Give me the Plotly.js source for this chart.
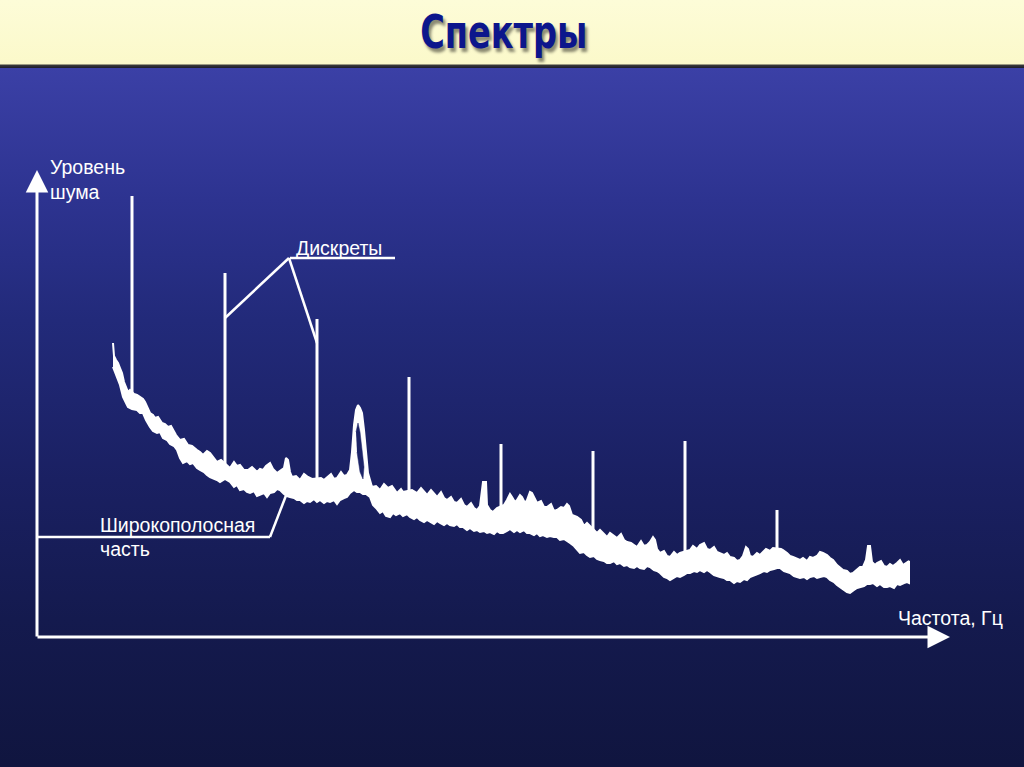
<!DOCTYPE html>
<html>
<head>
<meta charset="utf-8">
<script src="https://cdn.plot.ly/plotly-3.0.1.min.js"></script>
<style>
  html, body { margin: 0; padding: 0; }
  body {
    width: 1024px; height: 767px; overflow: hidden;
    background: linear-gradient(to bottom,
      #fdfcd8 0px, #fbf9ca 64px, #3a3a3a 65px, #1c1c2c 68px,
      #3b40a6 68px, #2d3390 200px, #222a7a 320px, #1a2062 480px, #141a4e 620px, #10153f 767px);
  }
  #chart { width: 1024px; height: 767px; }
  .gtitle { transform-box: fill-box; transform-origin: center; transform: scaleX(0.73); }
</style>
</head>
<body>
<div id="chart"></div>
<script>
// Broadband part: upper and lower envelope of the noisy spectrum (arbitrary units)
const upperFreq = [76,77,79,81,83,85,87,89,91,93,97,100,103,106,108,111,113,116,118,121,125,128,131,134,136,139,143,147,151,155,160,163,166,170,173,177,180,184,187,191,193,197,200,203,207,211,215,220,223,226,229,233,236,240,244,247,249,251,253,255,259,263,267,271,275,284,287,290,294,297,300,304,307,310,313,315,317,319,321,323,325,327,328,330,331,333,335,339,343,347,351,355,360,364,366,375,380,384,387,390,394,397,400,404,407,410,414,417,420,424,427,430,434,437,440,443,446,449,450,453,456,460,467,470,473,475,478,480,483,485,488,490,493,495,498,500,504,507,510,514,517,520,524,527,530,532,535,538,540,544,547,550,560,563,567,570,573,577,580,584,587,590,594,597,600,604,607,610,613,616,618,620,623,627,630,633,637,640,643,653,656,660,663,667,670,673,677,680,683,687,690,693,697,700,703,706,709,711,713,716,720,723,726,729,733,736,744,746,750,753,756,760,763,766,770,773,776,780,783,786,790,793,796,800,803,806,810,813,816,820,823,826,829,831,833,835,838,840,844,847,850,853,856,860,863,866,870,872];
const upperLevel = [294,281,277,274,269,264,255,249,245,247,243,242,240,238,235,229,224,222,219,220,214,213,210,211,207,202,197,198,192,191,187,185,182,186,184,179,175,177,174,171,169,175,171,172,167,167,170,165,168,167,171,174,168,164,167,169,179,177,165,160,161,157,163,160,158,159,157,160,163,158,159,165,161,162,167,185,212,227,232,229,224,207,194,175,164,157,150,151,147,153,149,151,144,148,145,147,144,149,146,142,147,143,140,145,139,137,140,135,134,138,132,130,134,129,127,131,155,155,132,127,125,129,132,137,143,140,135,137,142,140,134,137,145,144,137,134,136,130,130,133,126,127,130,129,133,131,122,121,120,117,111,114,104,107,103,100,104,101,99,103,97,95,94,92,90,96,91,92,95,100,97,88,84,86,81,80,85,82,84,87,91,88,92,94,88,87,90,85,84,82,84,80,79,76,77,81,90,88,81,80,84,82,85,88,86,89,88,87,84,81,80,78,77,79,76,80,79,81,85,84,82,79,77,72,69,67,66,63,64,67,70,70,77,91,91,75,72,74,76,71,70,73,71,74,77,72,75,76];
const lowerFreq = [76,78,81,83,86,89,91,95,100,103,106,109,113,116,120,123,126,130,133,137,140,143,146,150,153,156,160,163,167,170,173,177,180,183,188,193,197,200,203,207,210,213,217,220,223,227,230,233,237,240,243,247,250,253,257,260,263,267,270,273,277,280,283,287,290,293,297,300,303,307,310,313,317,320,323,326,329,333,336,339,343,346,349,353,356,359,363,366,370,373,377,380,383,387,390,393,397,400,403,407,410,413,417,420,423,426,430,433,437,440,443,447,450,453,457,460,463,466,470,473,477,480,483,487,490,493,497,500,503,506,510,513,517,520,523,527,530,533,537,540,543,547,550,553,557,560,563,567,570,573,577,580,583,587,590,593,597,600,603,607,610,613,617,620,623,627,630,633,637,640,643,647,650,653,657,660,663,667,670,673,677,680,683,687,690,693,697,700,703,707,710,713,717,720,723,727,730,733,737,740,743,747,750,753,757,760,763,767,770,773,777,780,783,787,790,793,797,800,803,807,810,813,817,820,823,827,830,833,836,840,843,847,850,853,857,860,863,867,870,872];
const lowerLevel = [270,265,257,252,240,234,230,228,227,224,224,217,210,206,204,205,199,197,193,191,187,179,174,176,173,174,169,167,165,162,160,158,157,155,158,155,150,152,147,148,145,144,146,141,142,144,140,144,145,148,147,143,141,140,139,137,137,134,136,135,138,135,137,134,136,135,137,133,137,139,140,144,147,145,145,143,143,140,132,129,124,126,121,120,124,122,124,121,123,120,118,120,117,115,117,115,113,116,114,112,114,112,111,113,110,110,107,109,106,107,105,106,104,105,103,106,104,104,106,108,105,107,105,107,104,104,102,104,101,102,100,101,100,100,97,98,96,94,91,88,84,85,82,80,81,78,77,76,74,74,76,73,74,71,72,70,69,71,69,68,71,70,67,66,64,60,59,57,59,61,60,62,64,64,66,65,67,65,67,65,62,61,60,59,57,57,54,56,55,58,57,60,62,63,64,66,65,67,68,69,69,66,65,64,61,60,59,60,58,60,61,59,60,61,60,57,55,52,50,47,45,44,47,49,50,51,53,53,54,51,53,50,50,51,49,53,52,54,55,54];
// Gap inside the broad hump near frequency 322
const humpGapFreq = [319, 321, 323, 327, 326, 323, 320];
const humpGapLevel = [205, 214, 205, 170, 158, 165, 185];
// Discrete components (tonal peaks)
const discreteFreq = [95, 188, 280, 372, 464, 556, 648, 740];
const discreteLevel = [441, 364, 318, 260, 193, 186, 196, 127];
const discreteBase = [232, 160, 138, 124, 108, 84, 66, 72];

const bandX = upperFreq.concat(lowerFreq.slice().reverse());
const bandY = upperLevel.concat(lowerLevel.slice().reverse());

const dX = [], dY = [];
discreteFreq.forEach((f, i) => { dX.push(f, f, null); dY.push(discreteBase[i], discreteLevel[i], null); });

const traces = [
  { type: 'scatter', mode: 'lines', x: bandX, y: bandY, fill: 'toself', fillcolor: '#ffffff',
    line: { color: '#ffffff', width: 2 }, hoverinfo: 'skip', showlegend: false },
  { type: 'scatter', mode: 'lines', x: humpGapFreq, y: humpGapLevel, fill: 'toself', fillcolor: '#1d2468',
    line: { color: '#1d2468', width: 0.5 }, hoverinfo: 'skip', showlegend: false },
  { type: 'scatter', mode: 'lines', x: dX, y: dY, line: { color: '#ffffff', width: 3 },
    hoverinfo: 'skip', showlegend: false, connectgaps: false }
];

const textFont = { family: 'Liberation Sans, Arial, sans-serif', size: 19.5, color: '#ffffff' };
const ann = (x, y, text, xa, ya) => ({ x, y, xref: 'x', yref: 'y', text, showarrow: false,
  xanchor: xa || 'left', yanchor: ya || 'middle', align: 'left', font: textFont });
const arrow = (x, y, ax, ay) => ({ x, y, ax, ay, xref: 'x', yref: 'y', axref: 'x', ayref: 'y',
  text: '', showarrow: true, arrowhead: 2, arrowsize: 1.5, arrowwidth: 3, arrowcolor: '#ffffff', standoff: 0 });

const layout = {
  width: 1024, height: 767,
  margin: { l: 37, r: 67, t: 170, b: 130 },
  paper_bgcolor: 'rgba(0,0,0,0)', plot_bgcolor: 'rgba(0,0,0,0)',
  title: { text: 'Спектры', x: 0.492, xref: 'container', y: 0.958, yref: 'container',
    xanchor: 'center', yanchor: 'middle',
    font: { family: 'DejaVu Sans, sans-serif', size: 46,
      weight: 700, color: '#0c168c', shadow: '3px 3px 3px rgba(0,0,0,0.45)' } },
  xaxis: { range: [0, 920], visible: false, fixedrange: true },
  yaxis: { range: [0, 467], visible: false, fixedrange: true },
  shapes: [
    { type: 'line', xref: 'x', yref: 'y', x0: 253, y0: 379, x1: 358, y1: 379, line: { color: '#ffffff', width: 2.5 } },
    { type: 'line', xref: 'x', yref: 'y', x0: 252, y0: 379, x1: 188, y1: 319, line: { color: '#ffffff', width: 2.5 } },
    { type: 'line', xref: 'x', yref: 'y', x0: 252, y0: 379, x1: 280, y1: 294, line: { color: '#ffffff', width: 2.5 } },
    { type: 'line', xref: 'x', yref: 'y', x0: 1, y0: 100, x1: 233, y1: 100, line: { color: '#ffffff', width: 2.5 } },
    { type: 'line', xref: 'x', yref: 'y', x0: 233, y0: 100, x1: 255, y1: 157, line: { color: '#ffffff', width: 2.5 } }
  ],
  annotations: [
    arrow(0, 467, 0, -1),
    arrow(913, 0, -1, 0),
    ann(11, 458, 'Уровень<br>шума'),
    ann(257, 389, 'Дискреты'),
    ann(61, 112, 'Широкополосная'),
    ann(61, 88, 'часть'),
    ann(859, 19, 'Частота, Гц')
  ]
};

Plotly.newPlot('chart', traces, layout, { staticPlot: true, displayModeBar: false });
</script>
</body>
</html>
